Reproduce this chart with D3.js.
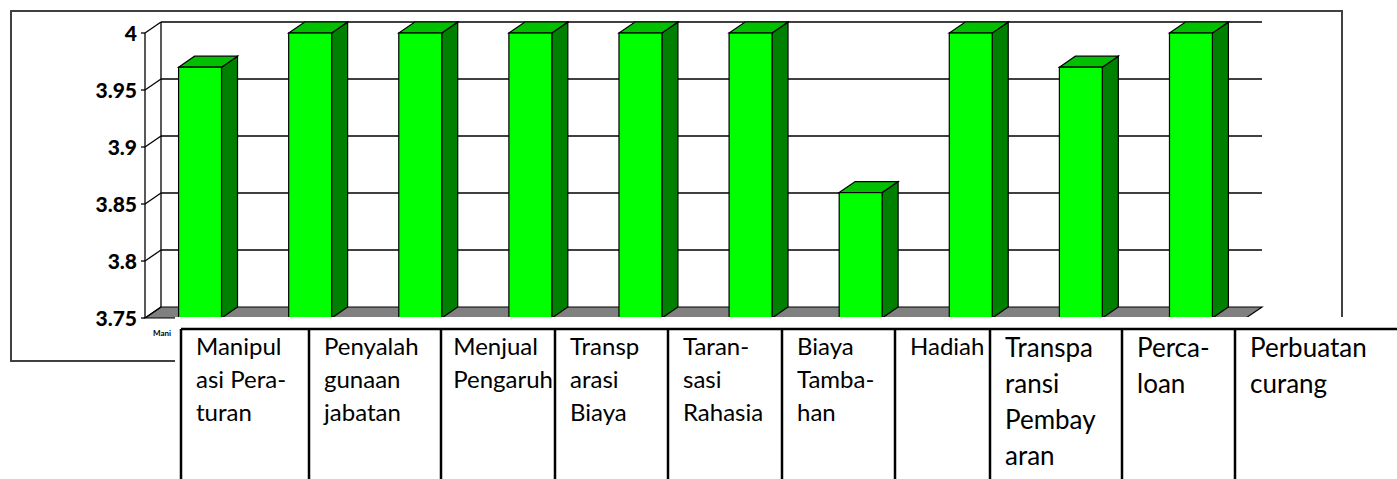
<!DOCTYPE html>
<html>
<head>
<meta charset="utf-8">
<script src="https://cdn.jsdelivr.net/npm/d3@7"></script>
<style>
  html, body { margin: 0; padding: 0; background: #fff; }
  svg { display: block; }
</style>
</head>
<body>
<div id="chart"></div>
<script>
"use strict";

// data
var categories = ["Manipulasi Peraturan", "Penyalahgunaan jabatan", "Menjual Pengaruh",
  "Transparasi Biaya", "Taransasi Rahasia", "Biaya Tambahan", "Hadiah",
  "Transparansi Pembayaran", "Percaloan", "Perbuatan curang"];
var values = [3.97, 4, 4, 4, 4, 4, 3.86, 4, 3.97, 4];
var yTicks = [3.75, 3.8, 3.85, 3.9, 3.95, 4];
var tableLines = [
  ["Manipul", "asi Pera-", "turan"],
  ["Penyalah", "gunaan", "jabatan"],
  ["Menjual", "Pengaruh"],
  ["Transp", "arasi", "Biaya"],
  ["Taran-", "sasi", "Rahasia"],
  ["Biaya", "Tamba-", "han"],
  ["Hadiah"],
  ["Transpa", "ransi", "Pembay", "aran"],
  ["Perca-", "loan"],
  ["Perbuatan", "curang"]
];
var axisStub = "Mani";

var width = 1397, height = 479;
var depthX = 16, depthY = 11;
var font = "Lato, 'Open Sans', sans-serif";

var svg = d3.select("#chart").append("svg")
  .attr("width", width).attr("height", height);

// outer chart frame
svg.append("rect")
  .attr("x", 11).attr("y", 11).attr("width", 1331).attr("height", 350)
  .attr("fill", "none").attr("stroke", "#404040").attr("stroke-width", 2);

var y = d3.scaleLinear().domain([3.75, 4]).range([318, 33]);
var x = d3.scaleBand().domain(categories).range([145, 1246])
  .paddingInner(0.61).paddingOuter(0.305);

var x0 = x.range()[0], x1 = x.range()[1];

// floor
svg.append("polygon")
  .attr("points", [[x0, y(3.75)], [x0 + depthX, y(3.75) - depthY],
    [x1 + depthX, y(3.75) - depthY], [x1, y(3.75)]].join(" "))
  .attr("fill", "#808080").attr("stroke", "#000").attr("stroke-width", 1.2);

// gridlines on back wall + side wall
var grid = svg.append("g").attr("stroke", "#000").attr("stroke-width", 1.3).attr("fill", "none");
yTicks.forEach(function (t) {
  if (t > 3.75) {
    grid.append("line")
      .attr("x1", x0 + depthX).attr("x2", x1 + depthX)
      .attr("y1", y(t) - depthY).attr("y2", y(t) - depthY);
  }
  grid.append("line")
    .attr("x1", x0).attr("y1", y(t))
    .attr("x2", x0 + depthX).attr("y2", y(t) - depthY);
  grid.append("line")
    .attr("x1", x0 - 4).attr("x2", x0)
    .attr("y1", y(t)).attr("y2", y(t));
});
grid.append("line")
  .attr("x1", x0).attr("x2", x0).attr("y1", y(4)).attr("y2", y(3.75));
grid.append("line")
  .attr("x1", x0 + depthX).attr("x2", x0 + depthX)
  .attr("y1", y(4) - depthY).attr("y2", y(3.75) - depthY);

// y labels
svg.append("g").selectAll("text").data(yTicks).join("text")
  .attr("x", 137).attr("y", function (d) { return y(d); })
  .attr("dy", "0.36em")
  .attr("text-anchor", "end")
  .attr("font-family", font).attr("font-weight", "900").attr("font-size", "21px")
  .attr("fill", "#000")
  .text(function (d) { return d3.format("")(d); });

// bars
var bw = x.bandwidth();
var bars = svg.append("g").selectAll("g").data(values).join("g")
  .attr("stroke", "#000").attr("stroke-width", 1.2).attr("stroke-linejoin", "miter");

bars.append("polygon")
  .attr("points", function (d, i) {
    var l = x(categories[i]) + bw, t = y(d), b = y(3.75);
    return [[l, t], [l + depthX, t - depthY], [l + depthX, b - depthY], [l, b]].join(" ");
  })
  .attr("fill", "#008000");
bars.append("polygon")
  .attr("points", function (d, i) {
    var l = x(categories[i]), t = y(d);
    return [[l, t], [l + depthX, t - depthY], [l + bw + depthX, t - depthY], [l + bw, t]].join(" ");
  })
  .attr("fill", "#00c000");
bars.append("rect")
  .attr("x", function (d, i) { return x(categories[i]); })
  .attr("y", function (d) { return y(d); })
  .attr("width", bw)
  .attr("height", function (d) { return y(3.75) - y(d); })
  .attr("fill", "#00ff00");

// truncated category label
svg.append("text")
  .attr("x", 153).attr("y", 336)
  .attr("font-family", font).attr("font-weight", "bold").attr("font-size", "8px")
  .attr("fill", "#000").text(axisStub);

// white block the table sits on
svg.append("rect")
  .attr("x", 175).attr("y", 317).attr("width", width - 175).attr("height", height - 317)
  .attr("fill", "#fff");

// table of category names
var colEdges = [181, 309, 441, 555, 668, 782, 895, 990, 1122, 1235, 1400];
var tableTop = 329;
var table = svg.append("g");
table.append("line")
  .attr("x1", colEdges[0]).attr("x2", width)
  .attr("y1", tableTop).attr("y2", tableTop)
  .attr("stroke", "#000").attr("stroke-width", 2.5);
colEdges.slice(0, -1).forEach(function (cx) {
  table.append("line")
    .attr("x1", cx).attr("x2", cx).attr("y1", tableTop).attr("y2", height)
    .attr("stroke", "#000").attr("stroke-width", 2.5);
});

tableLines.forEach(function (lines, i) {
  var big = i >= 7;
  var size = big ? 26 : 24, lead = big ? 36 : 33, base = big ? 357 : 355;
  var left = colEdges[i], right = colEdges[i + 1];
  var t = table.append("text")
    .attr("font-family", font).attr("font-size", size + "px").attr("fill", "#000");
  lines.forEach(function (s, k) {
    t.append("tspan").attr("x", 0).attr("y", base + k * lead).text(s);
  });
  var w = t.node().getBBox().width;
  var tx = left + 15;
  if (tx + w > right - 2) tx = Math.max(left + 2, right - w - 2);
  t.attr("transform", "translate(" + tx + ",0)");
});
</script>
</body>
</html>
